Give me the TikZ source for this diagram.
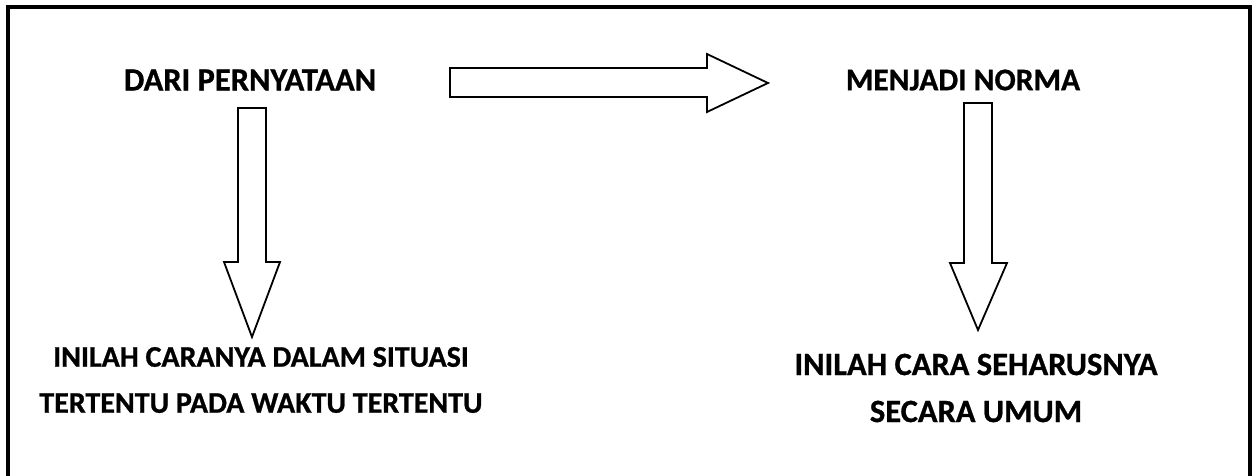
\documentclass[tikz,border=0pt]{standalone}
\usepackage{fontspec}
\setmainfont{Carlito}[BoldFeatures={FakeBold=0.8}]
\usetikzlibrary{positioning}

\begin{document}
\begin{tikzpicture}[x=1pt,y=-1pt]
\tikzstyle{every node}+=[inner sep=0pt]
\tikzstyle{label}=[font=\bfseries\fontsize{30}{46}\selectfont,align=center]
\tikzstyle{biglabel}=[font=\bfseries\fontsize{32.5}{47}\selectfont,align=center]
\tikzstyle{blockarrow}=[draw=black,line width=1.8pt,fill=white,line join=miter]
\useasboundingbox (0,0) rectangle (1256,475);
% frame, open at the bottom
\draw [line width=3.5pt] (8,476) -- (8,7) -- (1250,7) -- (1250,476);
% texts
\node [biglabel] (pernyataan) at (250,80) {DARI PERNYATAAN};
\node [biglabel,font=\bfseries\fontsize{31.5}{47}\selectfont] (norma) at (963,80) {MENJADI NORMA};
\node [label] (situasi) at (261,380) {INILAH CARANYA DALAM SITUASI\\TERTENTU PADA WAKTU TERTENTU};
\node [biglabel] (umum) at (976,388) {INILAH CARA SEHARUSNYA\\SECARA UMUM};
% arrows
\draw [blockarrow] (450,68) -- (707,68) -- (707,54) -- (768,83) -- (707,112) -- (707,97) -- (450,97) -- cycle;
\draw [blockarrow] (238,108) -- (266,108) -- (266,262) -- (280,262) -- (252,337) -- (224,262) -- (238,262) -- cycle;
\draw [blockarrow] (964,103) -- (992,103) -- (992,263) -- (1007,263) -- (978,330) -- (950,263) -- (964,263) -- cycle;
\end{tikzpicture}
\end{document}
